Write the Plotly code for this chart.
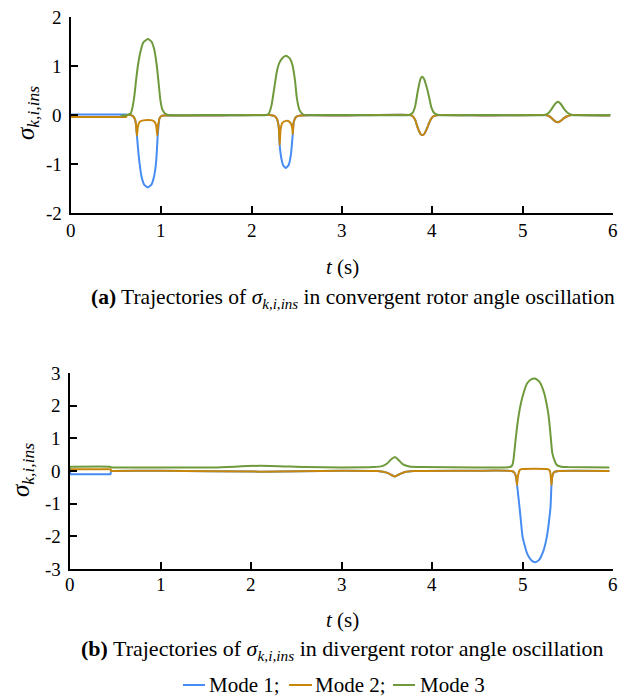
import plotly.graph_objects as go

W, H = 631, 699
FONT = "Liberation Serif, Times New Roman, Times, serif"

C_BLUE = "#468cf2"
C_ORANGE = "#c8870a"
C_GREEN = "#6f9a3c"

# ---------- (a) convergent oscillation ----------
a_t1 = [0.0, 0.60, 0.61, 0.62, 0.66, 0.69, 0.71, 0.72, 0.73, 0.745, 0.76, 0.78, 0.81, 0.85, 0.89,
        0.92, 0.94, 0.95, 0.96, 0.98, 1.0, 1.03, 1.6, 2.2, 2.25, 2.28, 2.30, 2.31, 2.33, 2.35,
        2.38, 2.41, 2.435, 2.455, 2.465, 2.49, 2.54, 3.0, 3.74, 3.78, 3.81, 3.84, 3.87, 3.89, 3.91,
        3.94, 3.96, 3.99, 4.02, 4.07, 4.6, 5.24, 5.29, 5.33, 5.36, 5.39, 5.42, 5.46, 5.5, 5.55,
        5.97]
a_m1 = [0.01, 0.01, 0.01, 0.0, 0.0, -0.03, -0.1, -0.2, -0.42, -0.75, -1.0, -1.25, -1.42, -1.48, -1.42,
        -1.25, -1.0, -0.75, -0.42, -0.07, -0.02, -0.01, -0.01, 0.0, -0.02, -0.08, -0.25, -0.61, -0.9, -1.03,
        -1.08, -1.02, -0.8, -0.39, -0.15, -0.04, -0.01, -0.01, 0.0, -0.02, -0.1, -0.27, -0.39, -0.41, -0.39,
        -0.28, -0.18, -0.07, -0.02, 0.0, -0.01, 0.0, -0.02, -0.08, -0.13, -0.15, -0.12, -0.06, -0.02, 0.0,
        -0.01]

a_t2 = [0.0, 0.60, 0.61, 0.62, 0.66, 0.69, 0.71, 0.72, 0.73, 0.74, 0.76, 0.80, 0.85, 0.90, 0.93,
        0.945, 0.955, 0.965, 0.98, 1.0, 1.03, 1.6, 2.2, 2.25, 2.28, 2.30, 2.31, 2.32, 2.34, 2.38,
        2.42, 2.44, 2.45, 2.455, 2.465, 2.49, 2.54, 3.0, 3.74, 3.78, 3.81, 3.84, 3.87, 3.89, 3.91,
        3.94, 3.96, 3.99, 4.02, 4.07, 4.6, 5.24, 5.29, 5.33, 5.36, 5.39, 5.42, 5.46, 5.5, 5.55,
        5.97]
a_m2 = [-0.04, -0.04, -0.04, 0.0, 0.0, -0.03, -0.1, -0.2, -0.42, -0.24, -0.14, -0.11, -0.1, -0.11, -0.15,
        -0.24, -0.42, -0.2, -0.07, -0.02, -0.01, -0.01, 0.0, -0.02, -0.08, -0.25, -0.61, -0.3, -0.16, -0.12,
        -0.14, -0.2, -0.28, -0.39, -0.15, -0.04, -0.01, -0.01, 0.0, -0.02, -0.1, -0.27, -0.39, -0.41, -0.39,
        -0.28, -0.18, -0.07, -0.02, 0.0, -0.01, 0.0, -0.02, -0.08, -0.13, -0.15, -0.12, -0.06, -0.02, 0.0,
        -0.01]

a_t3 = [0.55, 0.62, 0.66, 0.68, 0.70, 0.72, 0.74, 0.77, 0.80, 0.85, 0.89, 0.92, 0.95, 0.97, 0.99,
        1.01, 1.04, 1.08, 1.6, 2.16, 2.19, 2.22, 2.25, 2.28, 2.31, 2.35, 2.38, 2.42, 2.45, 2.48,
        2.50, 2.53, 2.57, 2.6, 3.2, 3.74, 3.78, 3.81, 3.84, 3.87, 3.89, 3.91, 3.94, 3.96, 3.99,
        4.02, 4.07, 4.6, 5.24, 5.28, 5.32, 5.36, 5.39, 5.42, 5.46, 5.5, 5.55, 5.97]
a_m3 = [-0.02, 0.0, 0.03, 0.15, 0.37, 0.7, 1.0, 1.3, 1.48, 1.55, 1.5, 1.35, 1.0, 0.65, 0.3,
        0.12, 0.03, 0.0, 0.0, 0.0, 0.03, 0.2, 0.55, 0.9, 1.08, 1.18, 1.21, 1.16, 1.03, 0.7,
        0.35, 0.1, 0.01, 0.0, 0.0, 0.0, 0.04, 0.18, 0.5, 0.74, 0.78, 0.73, 0.55, 0.4, 0.15,
        0.04, 0.0, 0.0, 0.0, 0.03, 0.12, 0.23, 0.27, 0.23, 0.12, 0.04, 0.0, 0.0]

# ---------- (b) divergent oscillation ----------
b_t1 = [0.0, 0.003, 0.006, 0.44, 0.447, 0.45, 0.453, 0.46, 1.0, 2.1, 3.0, 3.4, 3.5, 3.55, 3.59,
        3.64, 3.7, 3.8, 4.5, 4.88, 4.91, 4.93, 4.94, 4.955, 4.97, 4.985, 5.0, 5.05, 5.1, 5.14,
        5.18, 5.23, 5.27, 5.29, 5.31, 5.32, 5.33, 5.35, 5.4, 5.96]
b_m1 = [0.05, -0.1, -0.1, -0.1, -0.1, -0.05, 0.0, 0.0, 0.01, -0.02, 0.01, 0.0, -0.05, -0.12, -0.17,
        -0.1, -0.03, 0.0, 0.01, 0.0, -0.05, -0.2, -0.43, -0.8, -1.19, -1.6, -2.0, -2.52, -2.74, -2.79,
        -2.73, -2.45, -2.0, -1.6, -1.09, -0.43, -0.15, -0.03, 0.0, 0.0]

b_t2 = [0.0, 0.44, 0.45, 0.455, 0.46, 1.0, 2.1, 3.0, 3.4, 3.5, 3.55, 3.59, 3.64, 3.7, 3.8,
        4.5, 4.88, 4.91, 4.93, 4.94, 4.95, 4.97, 5.0, 5.14, 5.27, 5.30, 5.31, 5.32, 5.33, 5.35,
        5.4, 5.96]
b_m2 = [0.05, 0.05, 0.05, 0.0, 0.0, 0.01, -0.02, 0.01, 0.0, -0.05, -0.12, -0.17, -0.1, -0.03, 0.0,
        0.01, 0.0, -0.05, -0.2, -0.43, -0.15, 0.03, 0.06, 0.07, 0.06, 0.02, -0.1, -0.43, -0.15, -0.03,
        0.0, 0.0]

b_t3 = [0.0, 0.003, 0.006, 0.44, 0.45, 0.46, 1.0, 1.6, 2.1, 2.6, 3.0, 3.35, 3.45, 3.5, 3.55,
        3.59, 3.63, 3.68, 3.75, 3.9, 4.5, 4.80, 4.87, 4.89, 4.90, 4.92, 4.94, 4.97, 5.00, 5.05,
        5.10, 5.14, 5.19, 5.24, 5.27, 5.29, 5.31, 5.33, 5.36, 5.38, 5.43, 5.5, 5.96]
b_m3 = [0.05, 0.13, 0.13, 0.13, 0.12, 0.11, 0.11, 0.11, 0.16, 0.12, 0.11, 0.12, 0.15, 0.22, 0.36,
        0.43, 0.34, 0.2, 0.14, 0.12, 0.11, 0.11, 0.13, 0.2, 0.34, 0.85, 1.35, 1.9, 2.27, 2.68,
        2.81, 2.83, 2.72, 2.38, 2.0, 1.66, 1.1, 0.54, 0.28, 0.18, 0.13, 0.12, 0.11]

x_ticks = [0, 1, 2, 3, 4, 5, 6]
x_ticktext = ["0", "1", "2", "3", "4", "5", "6"]
ya_ticks = [-2, -1, 0, 1, 2]
ya_ticktext = ["-2", "-1", "0", "1", "2"]
yb_ticks = [-3, -2, -1, 0, 1, 2, 3]
yb_ticktext = ["-3", "-2", "-1", "0", "1", "2", "3"]

mode_names = ["Mode 1;", "Mode 2;", "Mode 3"]
mode_colors = [C_BLUE, C_ORANGE, C_GREEN]

fig = go.Figure()

line_style = dict(width=2, shape="spline", smoothing=0.5)
for xs, ys, col, xa, ya in [
    (a_t1, a_m1, C_BLUE, "x", "y"), (a_t2, a_m2, C_ORANGE, "x", "y"), (a_t3, a_m3, C_GREEN, "x", "y"),
    (b_t1, b_m1, C_BLUE, "x2", "y2"), (b_t2, b_m2, C_ORANGE, "x2", "y2"), (b_t3, b_m3, C_GREEN, "x2", "y2"),
]:
    fig.add_trace(go.Scatter(x=xs, y=ys, mode="lines", xaxis=xa, yaxis=ya,
                             line=dict(color=col, **line_style), showlegend=False,
                             hoverinfo="skip"))


def px_x(p):
    return p / W


def px_y(p):
    return 1 - p / H


axis_common = dict(showline=True, linecolor="black", linewidth=2, ticks="inside", ticklen=7,
                   tickwidth=1.5, tickcolor="black", showgrid=False, zeroline=False, mirror=False,
                   showticklabels=False)

fig.update_layout(
    width=W, height=H, margin=dict(l=0, r=0, t=0, b=0),
    paper_bgcolor="white", plot_bgcolor="white",
    font=dict(family=FONT, color="black", size=19),
    xaxis=dict(domain=[px_x(71), px_x(613)], range=[0, 6], anchor="y", tickvals=x_ticks, **axis_common),
    yaxis=dict(domain=[px_y(213), px_y(17)], range=[-2, 2], anchor="x", tickvals=ya_ticks, **axis_common),
    xaxis2=dict(domain=[px_x(70), px_x(613)], range=[0, 6], anchor="y2", tickvals=x_ticks, **axis_common),
    yaxis2=dict(domain=[px_y(569), px_y(373)], range=[-3, 3], anchor="x2", tickvals=yb_ticks, **axis_common),
)

ann = []

# tick labels, placed on the axes' own scales
for xref, ypix in [("x", 230), ("x2", 584)]:
    for v, s in zip(x_ticks, x_ticktext):
        ann.append(dict(x=v, y=px_y(ypix), xref=xref, yref="paper", text=s, font=dict(size=19)))
for yref, xpix, vals, texts in [("y", 64, ya_ticks, ya_ticktext), ("y2", 63, yb_ticks, yb_ticktext)]:
    for v, s in zip(vals, texts):
        ann.append(dict(x=px_x(xpix), y=v, xref="paper", yref=yref, text=s, xanchor="right",
                        font=dict(size=19)))

sigma = "<i>σ<sub>k,i,ins</sub></i>"

ann += [
    dict(x=px_x(27), y=px_y(113), text=sigma, textangle=-90, font=dict(size=25)),
    dict(x=px_x(22), y=px_y(470), text=sigma, textangle=-90, font=dict(size=25)),
    dict(x=px_x(342), y=px_y(267), text="<i>t</i> (s)", font=dict(size=21)),
    dict(x=px_x(342), y=px_y(620), text="<i>t</i> (s)", font=dict(size=21)),
    dict(x=px_x(353), y=px_y(298),
         text="<b>(a)</b> Trajectories of " + sigma + " in convergent rotor angle oscillation",
         font=dict(size=21.5)),
    dict(x=px_x(342), y=px_y(650),
         text="<b>(b)</b> Trajectories of " + sigma + " in divergent rotor angle oscillation",
         font=dict(size=22)),
]

# legend row: coloured dash followed by its label
dash_span = [(183, 205), (289, 312), (393, 415)]
label_left = [207, 313, 418]
for name, col, (d0, d1), lx in zip(mode_names, mode_colors, dash_span, label_left):
    fig.add_shape(type="line", xref="paper", yref="paper", x0=px_x(d0), x1=px_x(d1),
                  y0=px_y(685), y1=px_y(685), line=dict(color=col, width=2))
    ann.append(dict(x=px_x(lx), y=px_y(685), text=name, font=dict(size=21), xanchor="left"))

for a in ann:
    a.setdefault("xanchor", "center")
    a.setdefault("xref", "paper")
    a.setdefault("yref", "paper")
    a.update(showarrow=False, yanchor="middle")
    f = dict(family=FONT, color="black")
    f.update(a["font"])
    a["font"] = f
    fig.add_annotation(**a)

fig.write_html("out.html")
